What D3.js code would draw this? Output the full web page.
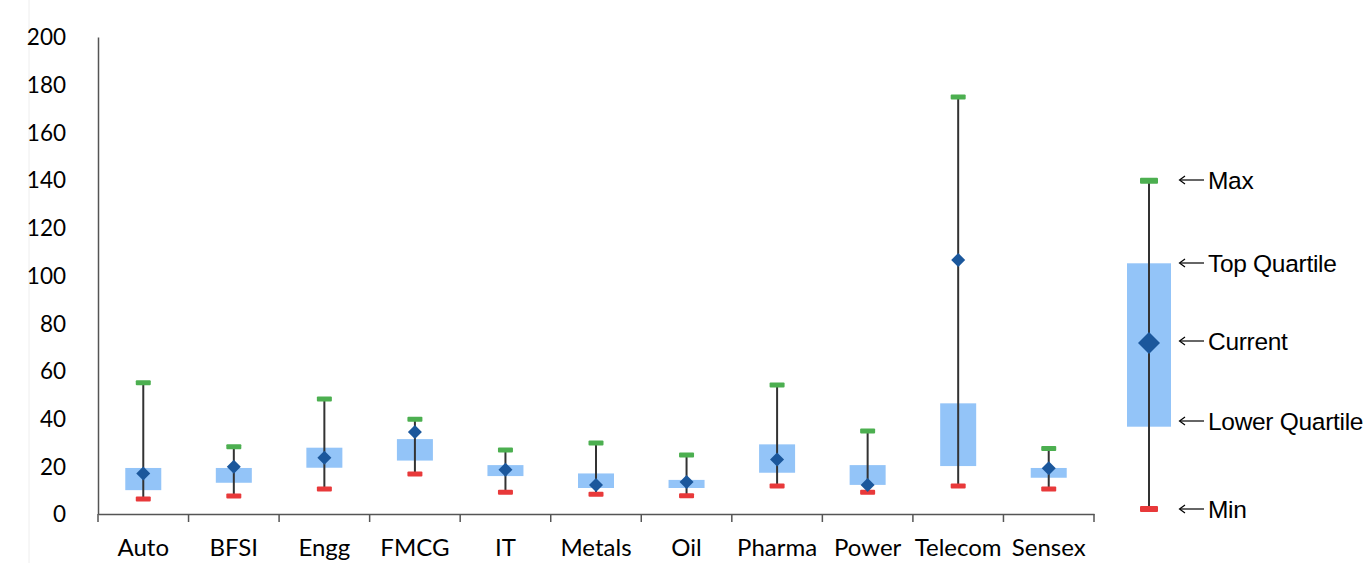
<!DOCTYPE html>
<html><head><meta charset="utf-8">
<script src="https://cdn.jsdelivr.net/npm/d3@7/dist/d3.min.js"></script>
<style>body{margin:0;background:#fff}svg{display:block}</style>
</head><body>
<script>
const categories = ["Auto","BFSI","Engg","FMCG","IT","Metals","Oil","Pharma","Power","Telecom","Sensex"];
const maxVals     = [55, 28.2, 48.2, 39.7, 26.8, 29.8, 24.7, 54.1, 34.8, 174.8, 27.5];
const topQuartile = [19.3, 19.3, 27.8, 31.4, 20.5, 17.0, 14.3, 29.2, 20.5, 46.4, 19.3];
const current     = [17.0, 19.8, 23.6, 34.4, 18.6, 12.2, 13.4, 22.9, 12.2, 106.5, 19.2];
const lowQuartile = [10.0, 13.1, 19.4, 22.4, 15.9, 10.9, 10.9, 17.3, 12.2, 20.1, 15.2];
const minVals     = [6.3, 7.5, 10.5, 16.8, 9.1, 8.3, 7.7, 11.7, 9.1, 11.7, 10.5];
const yTicks = [0,20,40,60,80,100,120,140,160,180,200];
const legendLabels = ["Max","Top Quartile","Current","Lower Quartile","Min"];

const W = 1368, H = 563;
const svg = d3.select("body").append("svg").attr("width", W).attr("height", H);
const font = "Lato, 'Open Sans', sans-serif";

const x = d3.scaleBand().domain(categories).range([98, 1094]).padding(0);
const y = d3.scaleLinear().domain([0, 200]).range([514, 37]);

const cGreen = "#4caf50", cRed = "#e8393a", cBox = "#93c4f8", cDia = "#1b579c", cLine = "#333";

// faint page border at left
svg.append("line").attr("x1", 29).attr("x2", 29).attr("y1", 0).attr("y2", H).attr("stroke", "#eee").attr("stroke-width", 1);

// axes
const yAxis = svg.append("g").attr("transform", "translate(98,0)")
  .call(d3.axisLeft(y).tickValues(yTicks).tickSize(0).tickPadding(32));
yAxis.select(".domain").attr("stroke", "#555").attr("stroke-width", 1.5);
yAxis.selectAll("text").attr("font-family", font).attr("font-size", 22.5).attr("fill", "#000").attr("dy", "0.35em");

const xAxis = svg.append("g").attr("transform", "translate(0,514)")
  .call(d3.axisBottom(x).tickSize(0).tickPadding(25));
xAxis.select(".domain").attr("stroke", "#555").attr("stroke-width", 1.5);
xAxis.selectAll("text").attr("font-family", font).attr("font-size", 24).attr("fill", "#000");
// tick marks at band boundaries
const bounds = categories.map(c => x(c)).concat([x.range()[1]]);
svg.append("g").selectAll("line").data(bounds).join("line")
  .attr("x1", d => d).attr("x2", d => d).attr("y1", 514).attr("y2", 522)
  .attr("stroke", "#555").attr("stroke-width", 1.5);

const data = categories.map((c, i) => ({c, max: maxVals[i], q3: topQuartile[i], cur: current[i], q1: lowQuartile[i], min: minVals[i]}));
const g = svg.append("g");
const cx = d => x(d.c) + x.bandwidth() / 2;
const boxW = 36, capW = 15, capH = 5;

g.selectAll("rect.box").data(data).join("rect").attr("class", "box")
  .attr("x", d => cx(d) - boxW / 2).attr("width", boxW)
  .attr("y", d => y(d.q3)).attr("height", d => y(d.q1) - y(d.q3)).attr("fill", cBox);
g.selectAll("line.wh").data(data).join("line").attr("class", "wh")
  .attr("x1", cx).attr("x2", cx).attr("y1", d => y(d.max)).attr("y2", d => y(d.min))
  .attr("stroke", cLine).attr("stroke-width", 2);
g.selectAll("rect.mx").data(data).join("rect").attr("class", "mx")
  .attr("x", d => cx(d) - capW / 2).attr("width", capW).attr("y", d => y(d.max) - capH / 2).attr("height", capH)
  .attr("rx", 1).attr("fill", cGreen);
g.selectAll("rect.mn").data(data).join("rect").attr("class", "mn")
  .attr("x", d => cx(d) - capW / 2).attr("width", capW).attr("y", d => y(d.min) - capH / 2).attr("height", capH)
  .attr("rx", 1).attr("fill", cRed);
g.selectAll("path.dia").data(data).join("path").attr("class", "dia")
  .attr("d", d => { const X = cx(d), Y = y(d.cur); return `M${X},${Y-7}L${X+7},${Y}L${X},${Y+7}L${X-7},${Y}Z`; })
  .attr("fill", cDia);

// legend
const L = svg.append("g");
const lx = 1149;
const lY = [180.7, 263.3, 343, 426.7, 509];
L.append("rect").attr("x", lx - 22).attr("width", 44).attr("y", lY[1]).attr("height", lY[3] - lY[1]).attr("fill", cBox);
L.append("line").attr("x1", lx).attr("x2", lx).attr("y1", lY[0]).attr("y2", lY[4]).attr("stroke", cLine).attr("stroke-width", 2);
L.append("rect").attr("x", lx - 9).attr("width", 18).attr("y", lY[0] - 3).attr("height", 6).attr("rx", 1).attr("fill", cGreen);
L.append("rect").attr("x", lx - 9).attr("width", 18).attr("y", lY[4] - 3).attr("height", 6).attr("rx", 1).attr("fill", cRed);
L.append("path").attr("d", `M${lx},${lY[2]-11}L${lx+11},${lY[2]}L${lx},${lY[2]+11}L${lx-11},${lY[2]}Z`).attr("fill", cDia);

const labY = [180, 263, 341, 421, 509];
const lab = L.selectAll("g.lab").data(legendLabels).join("g").attr("class", "lab")
  .attr("transform", (d, i) => `translate(0,${labY[i]})`);
lab.append("line").attr("x1", 1180).attr("x2", 1204).attr("y1", 0).attr("y2", 0).attr("stroke", "#000").attr("stroke-width", 1.2);
lab.append("path").attr("d", "M1185,-4L1179.5,0L1185,4").attr("fill", "none").attr("stroke", "#000").attr("stroke-width", 1.2);
lab.append("text").attr("x", 1208).attr("dy", "0.35em").text(d => d)
  .attr("font-family", "'Liberation Sans', Arial, sans-serif").attr("font-size", 24.5).attr("letter-spacing", -0.3).attr("fill", "#000");
</script>
</body></html>
